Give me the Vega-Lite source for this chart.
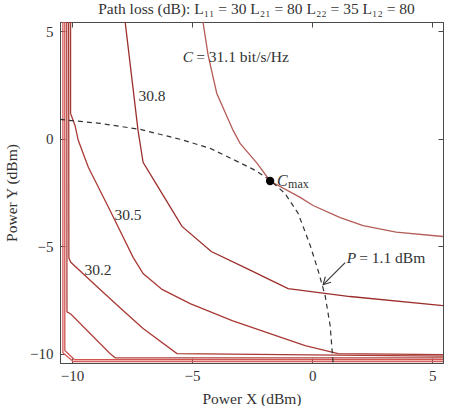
{
  "$schema": "https://vega.github.io/schema/vega-lite/v6.json",
  "width": 383,
  "height": 341,
  "autosize": {"type": "none"},
  "padding": {"left": 60, "top": 22, "right": 6, "bottom": 43},
  "title": {"text": "Path loss (dB): L₁₁ = 30 L₂₁ = 80 L₂₂ = 35 L₁₂ = 80", "font": "Liberation Serif", "fontSize": 15.5, "fontWeight": "normal", "color": "#333333", "offset": 4, "anchor": "middle", "dx": 5},
  "config": {
    "font": "Liberation Serif",
    "view": {"stroke": "#4a4a4a"},
    "axis": {"grid": false, "domainColor": "#4a4a4a", "tickColor": "#4a4a4a", "labelFont": "Liberation Serif", "labelFontSize": 15, "labelColor": "#333333", "titleFont": "Liberation Serif", "titleFontSize": 15.5, "titleFontWeight": "normal", "titleColor": "#333333"}
  },
  "datasets": {
    "contours": [
      {"c": "31.1", "i": 0, "x": -4.55, "y": 5.45},
      {"c": "31.1", "i": 1, "x": -4.33, "y": 3.87},
      {"c": "31.1", "i": 2, "x": -3.97, "y": 2.10},
      {"c": "31.1", "i": 3, "x": -3.29, "y": 0.38},
      {"c": "31.1", "i": 4, "x": -3.0, "y": -0.22},
      {"c": "31.1", "i": 5, "x": -2.29, "y": -1.15},
      {"c": "31.1", "i": 6, "x": -1.75, "y": -1.97},
      {"c": "31.1", "i": 7, "x": -0.5, "y": -2.73},
      {"c": "31.1", "i": 8, "x": 0.04, "y": -3.11},
      {"c": "31.1", "i": 9, "x": 1.17, "y": -3.67},
      {"c": "31.1", "i": 10, "x": 2.12, "y": -4.04},
      {"c": "31.1", "i": 11, "x": 3.5, "y": -4.35},
      {"c": "31.1", "i": 12, "x": 5.46, "y": -4.55},
      {"c": "30.8", "i": 0, "x": -7.79, "y": 5.45},
      {"c": "30.8", "i": 1, "x": -7.25, "y": 0.38},
      {"c": "30.8", "i": 2, "x": -7.04, "y": -1.1},
      {"c": "30.8", "i": 3, "x": -6.33, "y": -2.41},
      {"c": "30.8", "i": 4, "x": -5.42, "y": -4.08},
      {"c": "30.8", "i": 5, "x": -4.2, "y": -5.25},
      {"c": "30.8", "i": 6, "x": -2.71, "y": -6.04},
      {"c": "30.8", "i": 7, "x": -1.88, "y": -6.5},
      {"c": "30.8", "i": 8, "x": -1.0, "y": -6.97},
      {"c": "30.8", "i": 9, "x": 1.58, "y": -7.34},
      {"c": "30.8", "i": 10, "x": 5.46, "y": -7.76},
      {"c": "30.5", "i": 0, "x": -10.06, "y": 5.45},
      {"c": "30.5", "i": 1, "x": -10.06, "y": 1.17},
      {"c": "30.5", "i": 2, "x": -9.875, "y": 0.61},
      {"c": "30.5", "i": 3, "x": -9.74, "y": -0.08},
      {"c": "30.5", "i": 4, "x": -9.32, "y": -1.33},
      {"c": "30.5", "i": 5, "x": -8.42, "y": -3.33},
      {"c": "30.5", "i": 6, "x": -7.46, "y": -5.51},
      {"c": "30.5", "i": 7, "x": -7.04, "y": -6.27},
      {"c": "30.5", "i": 8, "x": -6.25, "y": -7.01},
      {"c": "30.5", "i": 9, "x": -5.08, "y": -7.67},
      {"c": "30.5", "i": 10, "x": -3.33, "y": -8.46},
      {"c": "30.5", "i": 11, "x": -1.54, "y": -9.15},
      {"c": "30.5", "i": 12, "x": -0.29, "y": -9.62},
      {"c": "30.5", "i": 13, "x": 1.08, "y": -9.99},
      {"c": "30.5", "i": 14, "x": 5.46, "y": -10.04},
      {"c": "30.2", "i": 0, "x": -10.14, "y": 5.45},
      {"c": "30.2", "i": 1, "x": -10.13, "y": -5.55},
      {"c": "30.2", "i": 2, "x": -10.05, "y": -5.75},
      {"c": "30.2", "i": 3, "x": -8.83, "y": -7.01},
      {"c": "30.2", "i": 4, "x": -7.92, "y": -7.94},
      {"c": "30.2", "i": 5, "x": -7.04, "y": -8.83},
      {"c": "30.2", "i": 6, "x": -5.63, "y": -9.99},
      {"c": "30.2", "i": 7, "x": 5.46, "y": -10.11},
      {"c": "29.9", "i": 0, "x": -10.22, "y": 5.45},
      {"c": "29.9", "i": 1, "x": -10.21, "y": -8.05},
      {"c": "29.9", "i": 2, "x": -10.05, "y": -8.15},
      {"c": "29.9", "i": 3, "x": -8.42, "y": -9.99},
      {"c": "29.9", "i": 4, "x": -8.2, "y": -10.19},
      {"c": "29.9", "i": 5, "x": 5.46, "y": -10.19},
      {"c": "29.6", "i": 0, "x": -10.3, "y": 5.45},
      {"c": "29.6", "i": 1, "x": -10.3, "y": -9.85},
      {"c": "29.6", "i": 2, "x": -9.9, "y": -10.27},
      {"c": "29.6", "i": 3, "x": 5.46, "y": -10.27},
      {"c": "29.3", "i": 0, "x": -10.38, "y": 5.45},
      {"c": "29.3", "i": 1, "x": -10.38, "y": -9.95},
      {"c": "29.3", "i": 2, "x": -9.95, "y": -10.36},
      {"c": "29.3", "i": 3, "x": 5.46, "y": -10.36}
    ],
    "power": [
      {"i": 0, "x": -10.5, "y": 0.89},
      {"i": 1, "x": -8.83, "y": 0.71},
      {"i": 2, "x": -7.17, "y": 0.43},
      {"i": 3, "x": -5.5, "y": -0.03},
      {"i": 4, "x": -4.25, "y": -0.45},
      {"i": 5, "x": -3.21, "y": -1.01},
      {"i": 6, "x": -2.38, "y": -1.47},
      {"i": 7, "x": -1.75, "y": -1.94},
      {"i": 8, "x": -1.13, "y": -2.55},
      {"i": 9, "x": -0.58, "y": -3.48},
      {"i": 10, "x": -0.08, "y": -4.97},
      {"i": 11, "x": 0.25, "y": -6.13},
      {"i": 12, "x": 0.54, "y": -7.29},
      {"i": 13, "x": 0.75, "y": -8.69},
      {"i": 14, "x": 0.875, "y": -10.45}
    ],
    "arrow": [
      {"part": "shaft", "i": 0, "x": 1.375, "y": -5.76},
      {"part": "shaft", "i": 1, "x": 0.46, "y": -6.79},
      {"part": "head", "i": 0, "x": 0.78, "y": -6.68},
      {"part": "head", "i": 1, "x": 0.46, "y": -6.79},
      {"part": "head", "i": 2, "x": 0.55, "y": -6.42}
    ],
    "cmax": [{"x": -1.75, "y": -1.97}],
    "labels": [
      {"x": -6.67, "y": 2.0, "t": "30.8"},
      {"x": -7.67, "y": -3.57, "t": "30.5"},
      {"x": -8.92, "y": -6.13, "t": "30.2"}
    ],
    "eqs": [
      {"x": -4.83, "y": 3.78, "lhs": "C", "rhs": "= 31.1 bit/s/Hz"},
      {"x": 1.96, "y": -5.53, "lhs": "P", "rhs": "= 1.1 dBm"}
    ]
  },
  "layer": [
    {
      "data": {"name": "contours"},
      "mark": {"type": "line", "strokeWidth": 1.3, "clip": true},
      "encoding": {
        "x": {"field": "x", "type": "quantitative", "scale": {"domain": [-10.5, 5.45], "nice": false, "zero": false},
              "axis": {"orient": "bottom", "values": [-10, -5, 0, 5], "tickSize": -5, "labelPadding": 10, "title": "Power X (dBm)", "titlePadding": 8}},
        "y": {"field": "y", "type": "quantitative", "scale": {"domain": [-10.43, 5.42], "nice": false, "zero": false},
              "axis": {"orient": "left", "values": [-10, -5, 0, 5], "tickSize": -5, "labelPadding": 12, "title": "Power Y (dBm)", "titlePadding": 10}},
        "detail": {"field": "c"},
        "order": {"field": "i", "type": "quantitative"},
        "color": {"field": "c", "type": "nominal", "legend": null,
                  "scale": {"domain": ["31.1", "30.8", "30.5", "30.2", "29.9", "29.6", "29.3"],
                            "range": ["#b45c58", "#9c2f2c", "#a83a36", "#a83a36", "#b0403c", "#d05450", "#d85c58"]}}
      }
    },
    {
      "data": {"name": "power"},
      "mark": {"type": "line", "strokeWidth": 1.2, "strokeDash": [5, 4], "color": "#333333", "clip": true},
      "encoding": {
        "x": {"field": "x", "type": "quantitative", "axis": {"orient": "top", "values": [-10, -5, 0, 5], "tickSize": -5, "labels": false, "title": null}},
        "y": {"field": "y", "type": "quantitative", "axis": {"orient": "right", "values": [-10, -5, 0, 5], "tickSize": -5, "labels": false, "title": null}},
        "order": {"field": "i", "type": "quantitative"}
      }
    },
    {
      "data": {"name": "arrow"},
      "mark": {"type": "line", "strokeWidth": 1.1, "color": "#333333"},
      "encoding": {
        "x": {"field": "x", "type": "quantitative", "axis": null},
        "y": {"field": "y", "type": "quantitative", "axis": null},
        "detail": {"field": "part"},
        "order": {"field": "i", "type": "quantitative"}
      }
    },
    {
      "data": {"name": "cmax"},
      "mark": {"type": "point", "filled": true, "size": 70, "color": "#000000", "opacity": 1},
      "encoding": {
        "x": {"field": "x", "type": "quantitative", "axis": null},
        "y": {"field": "y", "type": "quantitative", "axis": null}
      }
    },
    {
      "data": {"name": "cmax"},
      "mark": {"type": "text", "text": "C", "align": "left", "baseline": "middle", "dx": 7, "fontSize": 16, "fontStyle": "italic", "color": "#333333"},
      "encoding": {
        "x": {"field": "x", "type": "quantitative", "axis": null},
        "y": {"field": "y", "type": "quantitative", "axis": null}
      }
    },
    {
      "data": {"name": "cmax"},
      "mark": {"type": "text", "text": "max", "align": "left", "baseline": "middle", "dx": 18, "dy": 3, "fontSize": 12, "color": "#333333"},
      "encoding": {
        "x": {"field": "x", "type": "quantitative", "axis": null},
        "y": {"field": "y", "type": "quantitative", "axis": null}
      }
    },
    {
      "data": {"name": "labels"},
      "mark": {"type": "text", "align": "center", "baseline": "middle", "fontSize": 15.5, "color": "#333333"},
      "encoding": {
        "x": {"field": "x", "type": "quantitative", "axis": null},
        "y": {"field": "y", "type": "quantitative", "axis": null},
        "text": {"field": "t"}
      }
    },
    {
      "data": {"name": "eqs"},
      "mark": {"type": "text", "align": "right", "baseline": "middle", "dx": -3, "fontSize": 15.5, "fontStyle": "italic", "color": "#333333"},
      "encoding": {
        "x": {"field": "x", "type": "quantitative", "axis": null},
        "y": {"field": "y", "type": "quantitative", "axis": null},
        "text": {"field": "lhs"}
      }
    },
    {
      "data": {"name": "eqs"},
      "mark": {"type": "text", "align": "left", "baseline": "middle", "fontSize": 15.5, "color": "#333333"},
      "encoding": {
        "x": {"field": "x", "type": "quantitative", "axis": null},
        "y": {"field": "y", "type": "quantitative", "axis": null},
        "text": {"field": "rhs"}
      }
    }
  ],
  "resolve": {"axis": {"x": "independent", "y": "independent"}}
}
